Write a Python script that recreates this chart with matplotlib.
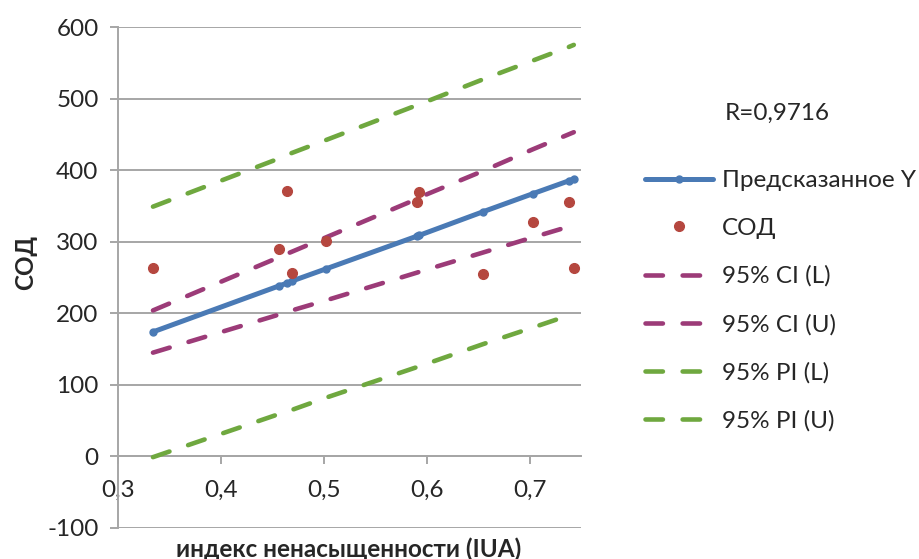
import matplotlib
matplotlib.use("Agg")
import matplotlib.pyplot as plt

plt.rcParams['font.family'] = ['Lato', 'DejaVu Sans']

# data
x_vals = [0.334, 0.456, 0.464, 0.469, 0.502, 0.591, 0.593, 0.655, 0.703, 0.738, 0.743]
sod = [263, 290, 371, 256, 301, 355, 369, 255, 327, 355, 263]
predicted = [174, 238, 242, 245, 262, 308, 309, 342, 367, 385, 388]
ci_low = [145, 198, 202, 204, 218, 257, 258, 285, 306, 321, 323]
ci_up = [204, 278, 283, 286, 306, 360, 362, 399, 429, 450, 453]
pi_low = [-1, 59, 63, 65, 82, 125, 126, 157, 180, 197, 200]
pi_up = [349, 416, 421, 424, 442, 491, 492, 527, 553, 572, 575]

x_ticks = [0.3, 0.4, 0.5, 0.6, 0.7]
x_ticklabels = ['0,3', '0,4', '0,5', '0,6', '0,7']
y_ticks = [-100, 0, 100, 200, 300, 400, 500, 600]

c_blue = '#4a7ab5'
c_red = '#b5473f'
c_purple = '#9c3b78'
c_green = '#6fa83f'
c_grid = '#a6a6a6'
c_text = '#262626'

fig = plt.figure(figsize=(9.19, 5.59), dpi=100)
ax = fig.add_axes([118 / 919, 1 - 528 / 559, (581 - 118) / 919, (528 - 27) / 559])

fs = 17.5

dash = dict(linestyle=(0, (3.8, 4.3)), lw=3.3, dash_capstyle='round')
ax.plot(x_vals, ci_low, color=c_purple, label='95% CI (L)', zorder=3, **dash)
ax.plot(x_vals, ci_up, color=c_purple, label='95% CI (U)', zorder=3, **dash)
ax.plot(x_vals, pi_low, color=c_green, label='95% PI (L)', zorder=3, **dash)
ax.plot(x_vals, pi_up, color=c_green, label='95% PI (U)', zorder=3, **dash)
ax.plot(x_vals, predicted, color=c_blue, lw=3.6, marker='o', ms=5,
        solid_capstyle='round', label='Предсказанное Y', zorder=4)
ax.plot(x_vals, sod, linestyle='none', marker='o', ms=7, color=c_red,
        label='СОД', zorder=5)

# the x axis crosses at y = 0, as in Excel
ax.spines['bottom'].set_position(('data', 0))
for s in ['top', 'right']:
    ax.spines[s].set_visible(False)
for s in ['left', 'bottom']:
    ax.spines[s].set_color(c_grid)
    ax.spines[s].set_linewidth(1.4)

ax.set_xlim(0.3, 0.75)
ax.set_ylim(-100, 600)
ax.set_yticks(y_ticks)
ax.set_yticklabels([str(v) for v in y_ticks])
ax.set_xticks(x_ticks)
ax.set_xticklabels(x_ticklabels)
ax.tick_params(axis='y', length=6, width=1.4, color=c_grid, pad=8,
               labelsize=fs, labelcolor=c_text)
ax.tick_params(axis='x', length=6, width=1.4, color=c_grid, pad=11,
               labelsize=fs, labelcolor=c_text)

for y in y_ticks:
    ax.axhline(y, color=c_grid, lw=1.4, zorder=1)

fig.text(26 / 919, 1 - 262 / 559, 'СОД', rotation=90, fontsize=fs,
         fontweight='bold', ha='center', va='center', color=c_text)
fig.text(349 / 919, 1 - 549 / 559, 'индекс ненасыщенности (IUA)', fontsize=fs,
         fontweight='bold', ha='center', va='center', color=c_text)

handles, labels = ax.get_legend_handles_labels()
order = [4, 5, 0, 1, 2, 3]
leg = ax.legend([handles[i] for i in order], [labels[i] for i in order],
                loc='upper left', bbox_to_anchor=(645 / 919, 1 - 170 / 559),
                bbox_transform=fig.transFigure, frameon=False, fontsize=fs,
                handlelength=2.8, handletextpad=0.35, labelspacing=1.1,
                borderpad=0, borderaxespad=0)
for t in leg.get_texts():
    t.set_color(c_text)

fig.text(725 / 919, 1 - 113 / 559, 'R=0,9716', fontsize=fs, ha='left',
         va='center', color=c_text)

fig.savefig('out.png', dpi=100)
